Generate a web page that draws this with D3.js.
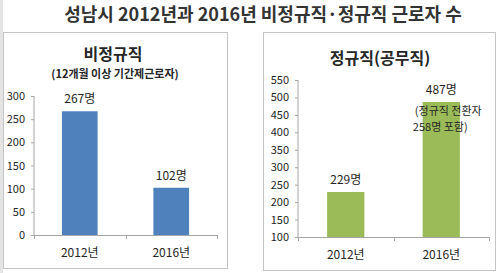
<!DOCTYPE html>
<html>
<head>
<meta charset="utf-8">
<script src="https://cdn.jsdelivr.net/npm/d3@7"></script>
<style>
  body { margin: 0; background: #fff; }
  svg text { font-family: "Noto Sans CJK KR", "Noto Sans", sans-serif; fill: #262626; }
</style>
</head>
<body>
<div id="chart"></div>
<script>
// 성남시 비정규직 / 정규직 근로자 수
var years = ["2012년", "2016년"];
var tempValues = [267, 102];      // 비정규직
var permValues = [229, 487];      // 정규직(공무직)
var tempTicks = [0, 50, 100, 150, 200, 250, 300];
var permTicks = [100, 150, 200, 250, 300, 350, 400, 450, 500, 550];

var width = 500, height = 273;

var svg = d3.select("#chart")
    .append("svg")
    .attr("width", width)
    .attr("height", height);

// light strip on the far left
svg.append("rect")
    .attr("x", 0).attr("y", 0)
    .attr("width", 3).attr("height", height)
    .attr("fill", "#e4e4e4");

// main title
svg.append("text")
    .attr("x", 263)
    .attr("y", 21)
    .attr("text-anchor", "middle")
    .style("font-size", "18px")
    .style("font-weight", "bold")
    .style("fill", "#333")
    .text("성남시 2012년과 2016년 비정규직·정규직 근로자 수");

// draws one panel with its own scales
function drawPanel(opts) {
    var g = svg.append("g");

    g.append("rect")
        .attr("x", opts.box[0] + 0.5)
        .attr("y", opts.box[1] + 0.5)
        .attr("width", opts.box[2])
        .attr("height", opts.box[3])
        .attr("fill", "#fff")
        .attr("stroke", "#c4c4c4");

    var x = d3.scaleBand()
        .domain(years)
        .range([opts.left, opts.right])
        .paddingInner(0.61)
        .paddingOuter(0.305);

    var y = d3.scaleLinear()
        .domain([opts.ticks[0], opts.ticks[opts.ticks.length - 1]])
        .range([opts.bottom, opts.top]);

    // y axis
    var yAxis = g.append("g")
        .attr("transform", "translate(" + opts.left + ",0)")
        .call(d3.axisLeft(y).tickValues(opts.ticks).tickSize(3).tickPadding(6));
    yAxis.select(".domain").attr("stroke", "#a6a6a6").attr("d", "M0," + opts.top + "V" + opts.bottom);
    yAxis.selectAll(".tick line").attr("stroke", "#a6a6a6");
    yAxis.selectAll(".tick text")
        .style("font-size", "11px")
        .style("fill", "#262626");

    // bars
    g.selectAll("rect.bar")
        .data(opts.values)
        .enter().append("rect")
        .attr("class", "bar")
        .attr("x", function(d, i) { return x(years[i]); })
        .attr("y", function(d) { return y(d); })
        .attr("width", x.bandwidth())
        .attr("height", function(d) { return opts.bottom - y(d); })
        .attr("fill", opts.color);

    // x axis line with boundary ticks
    var bounds = [opts.left, (opts.left + opts.right) / 2, opts.right];
    g.append("line")
        .attr("x1", opts.left).attr("x2", opts.right)
        .attr("y1", opts.bottom + 0.5).attr("y2", opts.bottom + 0.5)
        .attr("stroke", "#a6a6a6");
    g.selectAll("line.xt")
        .data(bounds)
        .enter().append("line")
        .attr("class", "xt")
        .attr("x1", function(d) { return Math.round(d) + 0.5; })
        .attr("x2", function(d) { return Math.round(d) + 0.5; })
        .attr("y1", opts.bottom)
        .attr("y2", opts.bottom + 4)
        .attr("stroke", "#a6a6a6");

    // category labels
    g.selectAll("text.cat")
        .data(years)
        .enter().append("text")
        .attr("class", "cat")
        .attr("x", function(d) { return x(d) + x.bandwidth() / 2; })
        .attr("y", opts.bottom + 22)
        .attr("text-anchor", "middle")
        .style("font-size", "12px")
        .text(function(d) { return d; });

    // value labels
    g.selectAll("text.val")
        .data(opts.values)
        .enter().append("text")
        .attr("class", "val")
        .attr("x", function(d, i) { return x(years[i]) + x.bandwidth() / 2; })
        .attr("y", function(d) { return y(d) - 8; })
        .attr("text-anchor", "middle")
        .style("font-size", "12px")
        .text(function(d) { return d + "명"; });

    // panel title
    g.append("text")
        .attr("x", opts.titleX)
        .attr("y", opts.titleY)
        .attr("text-anchor", "middle")
        .style("font-size", "16px")
        .style("font-weight", "bold")
        .text(opts.title);

    return { g: g, x: x, y: y };
}

var left = drawPanel({
    box: [3, 32, 224, 236],
    left: 34, right: 217, top: 96, bottom: 235,
    ticks: tempTicks,
    values: tempValues,
    color: "#4f81bd",
    title: "비정규직",
    titleX: 113, titleY: 60
});

left.g.append("text")
    .attr("x", 115)
    .attr("y", 78)
    .attr("text-anchor", "middle")
    .style("font-size", "11px")
    .style("font-weight", "bold")
    .text("(12개월 이상 기간제근로자)");

var right = drawPanel({
    box: [263, 32, 232, 238],
    left: 298, right: 489, top: 80, bottom: 237,
    ticks: permTicks,
    values: permValues,
    color: "#9bbb59",
    title: "정규직(공무직)",
    titleX: 380, titleY: 64
});

// note under the 2016 value
var noteX = right.x(years[1]) + right.x.bandwidth() / 2;
right.g.append("text")
    .attr("x", noteX + 7)
    .attr("y", 115)
    .attr("text-anchor", "middle")
    .style("font-size", "11px")
    .text("(정규직 전환자");
right.g.append("text")
    .attr("x", noteX - 1)
    .attr("y", 131)
    .attr("text-anchor", "middle")
    .style("font-size", "11px")
    .text("258명 포함)");
</script>
</body>
</html>
